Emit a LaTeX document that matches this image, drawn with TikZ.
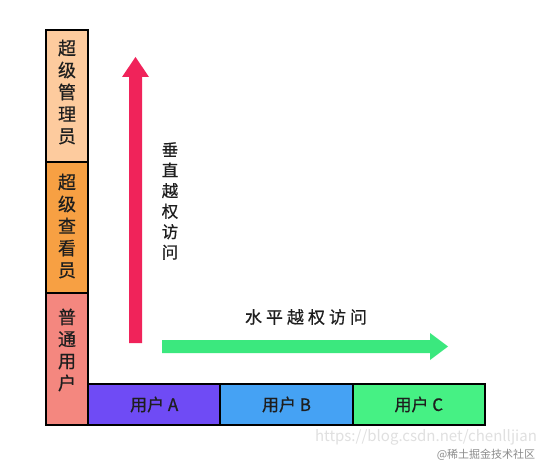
\documentclass[tikz,border=0pt]{standalone}
\usepackage{fontspec}
\setmainfont{Noto Sans CJK SC}
\newfontfamily\medfont{Noto Sans CJK SC}[FakeBold=0.6]
\definecolor{cpeach}{HTML}{FDCB9E}
\definecolor{corange}{HTML}{F7A043}
\definecolor{csalmon}{HTML}{F4877F}
\definecolor{cpurple}{HTML}{6F4BF5}
\definecolor{cblue}{HTML}{45A2F4}
\definecolor{cgreen}{HTML}{46F184}
\definecolor{cred}{HTML}{F0235A}
\definecolor{carrowg}{HTML}{3BE87E}
\definecolor{ctext}{HTML}{1E1E1E}
\begin{document}
\begin{tikzpicture}[x=1pt,y=-1pt,
  colbox/.style={draw=black,line width=2pt,minimum width=42pt,minimum height=131.7pt,inner sep=0pt},
  rowbox/.style={draw=black,line width=2pt,minimum width=132.3pt,minimum height=41pt,inner sep=0pt,
     text=ctext,font=\medfont\fontsize{17}{19}\selectfont},
  vlabel/.style={align=center,text=ctext,inner sep=0pt,font=\medfont\fontsize{18}{22}\selectfont},
  alabel/.style={align=center,text=ctext,inner sep=0pt,font=\medfont\fontsize{16.5}{20.5}\selectfont}]
\useasboundingbox (0,0) rectangle (540,465);
\fill[white] (0,0) rectangle (540,465);
% arrows
\fill[cred] (129,343) -- (129,77) -- (122,77) -- (135.5,57) -- (149,77) -- (142,77) -- (142,343) -- cycle;
\fill[carrowg] (162,340) -- (430,340) -- (430,333) -- (448,346.5) -- (430,360) -- (430,353) -- (162,353) -- cycle;
\node[alabel] (vt) at (170,201) {垂\\直\\越\\权\\访\\问};
\node[alabel,font=\medfont\fontsize{17}{20}\selectfont] (ht) at (306,317) {水\hspace{4pt}平\hspace{4pt}越\hspace{4pt}权\hspace{4pt}访\hspace{4pt}问};
% left column
\node[colbox,fill=cpeach] (sa) at (67,95.8) {};
\node[colbox,fill=corange] (sv) at (67,227.5) {};
\node[colbox,fill=csalmon] (nu) at (67,359.2) {};
\node[vlabel] (tsa) at (67,92) {超\\级\\管\\理\\员};
\node[vlabel] (tsv) at (67,226) {超\\级\\查\\看\\员};
\node[vlabel] (tnu) at (67,350) {普\\通\\用\\户};
% bottom row
\node[rowbox,fill=cpurple] (ua) at (154.2,404.5) {用户 A};
\node[rowbox,fill=cblue] (ub) at (286.5,404.5) {用户 B};
\node[rowbox,fill=cgreen] (uc) at (418.8,404.5) {用户 C};
% watermark
\node[text=black!12,inner sep=0pt,font=\fontsize{15}{16}\selectfont] (wm1) at (426,437) {https://blog.csdn.net/chenlljian};
\node[text=black!45,inner sep=0pt,font=\fontsize{11}{12}\selectfont] (wm2) at (486,455) {@稀土掘金技术社区};
\end{tikzpicture}
\end{document}
